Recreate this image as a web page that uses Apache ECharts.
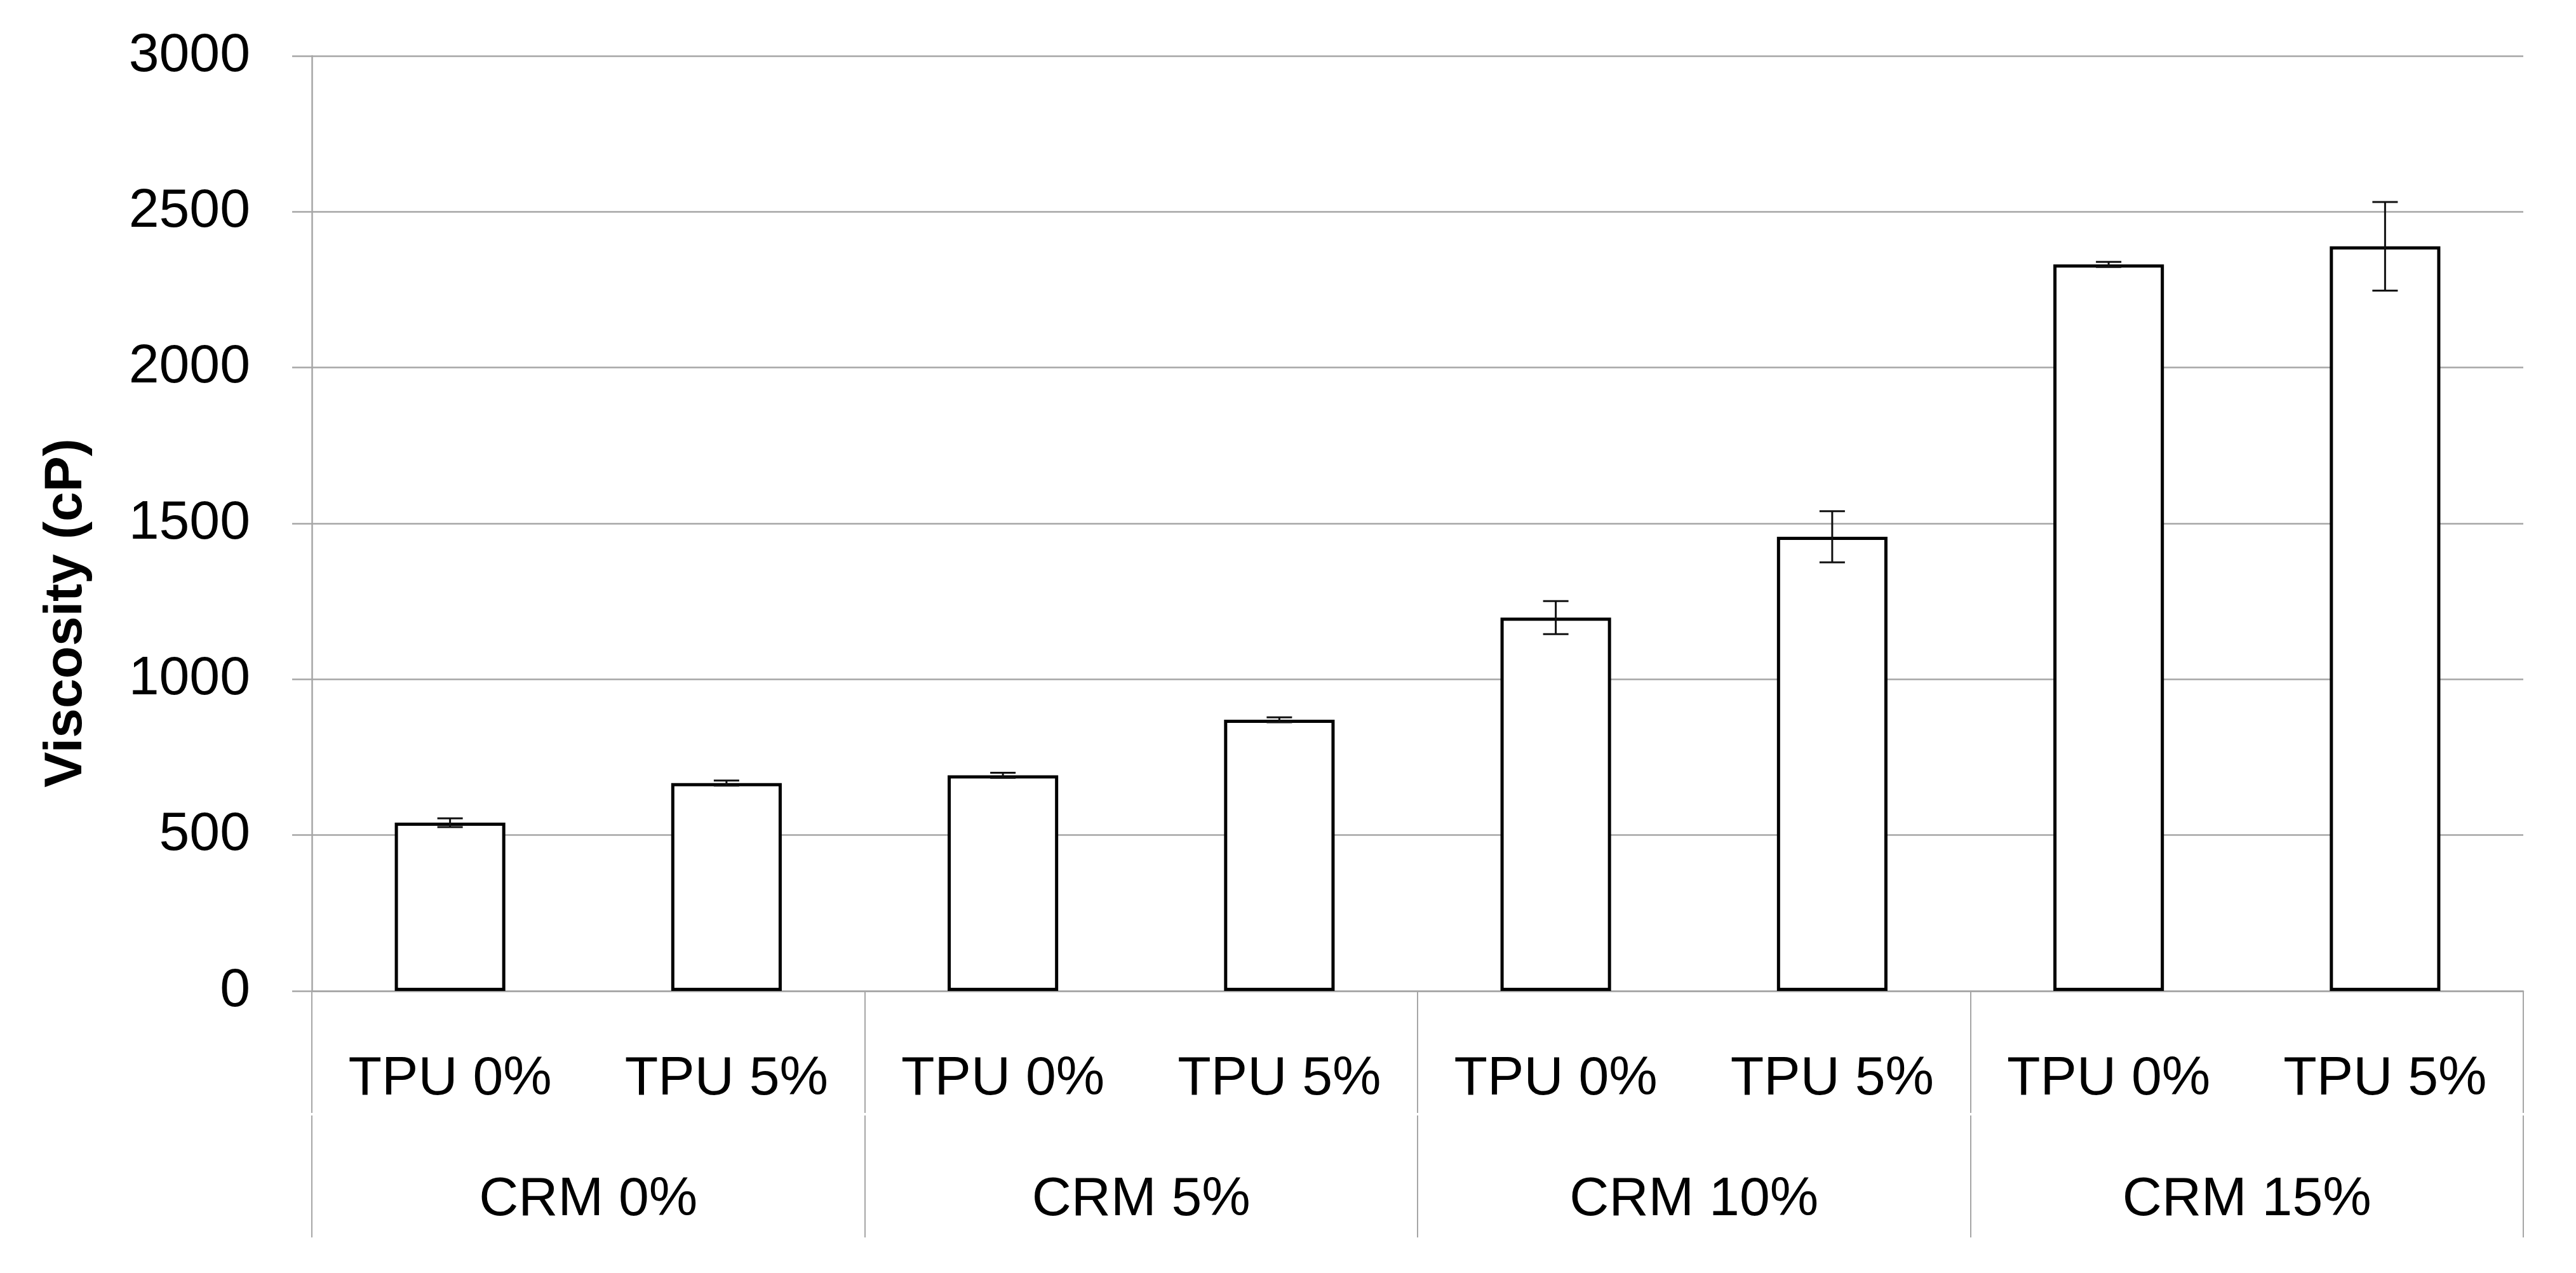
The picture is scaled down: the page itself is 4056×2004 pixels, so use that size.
<!DOCTYPE html>
<html>
<head>
<meta charset="utf-8">
<script src="https://cdn.jsdelivr.net/npm/echarts@6/dist/echarts.min.js"></script>
<style>
html,body{margin:0;padding:0;background:#fff;}
#chart{width:4056px;height:2004px;}
</style>
</head>
<body>
<div id="chart"></div>
<script>
// ---- data ----
const tpuLabels = ['TPU 0%', 'TPU 5%', 'TPU 0%', 'TPU 5%', 'TPU 0%', 'TPU 5%', 'TPU 0%', 'TPU 5%'];
const crmLabels = ['CRM 0%', 'CRM 5%', 'CRM 10%', 'CRM 15%'];
const viscosity = [540, 667, 692, 870, 1198, 1457, 2331, 2389];
const viscosityErr = [14, 8, 8, 8, 53, 82, 8, 142];
const yTicks = {min: 0, max: 3000, interval: 500};
const yTitle = 'Viscosity (cP)';

// ---- chart ----
const FONT = 'Liberation Sans';
const GRID = '#a6a6a6';
const chart = echarts.init(document.getElementById('chart'));

const errData = viscosity.map((v, i) => [i, v, viscosityErr[i]]);

chart.setOption({
  animation: false,
  backgroundColor: '#fff',
  textStyle: {fontFamily: FONT},
  grid: {left: 491, right: 83, top: 88, bottom: 444, containLabel: false},
  xAxis: [
    {
      type: 'category', data: tpuLabels, position: 'bottom',
      axisLine: {show: true, lineStyle: {color: GRID, width: 2.5}},
      axisTick: {show: false},
      axisLabel: {interval: 0, margin: 96, fontSize: 86, color: '#000', fontFamily: FONT}
    },
    {
      type: 'category', data: crmLabels, position: 'bottom', offset: 0,
      axisLine: {show: false},
      axisTick: {show: true, interval: 0, length: 192, lineStyle: {color: GRID, width: 2}},
      axisLabel: {show: false}
    },
    {
      type: 'category', data: crmLabels, position: 'bottom', offset: 196,
      axisLine: {show: false},
      axisTick: {show: true, interval: 0, length: 192, lineStyle: {color: GRID, width: 2}},
      axisLabel: {interval: 0, margin: 90, fontSize: 86, color: '#000', fontFamily: FONT}
    }
  ],
  yAxis: {
    type: 'value', min: yTicks.min, max: yTicks.max, interval: yTicks.interval,
    axisLine: {show: true, lineStyle: {color: GRID, width: 2.5}},
    axisTick: {show: true, length: 31, lineStyle: {color: GRID, width: 2.5}},
    splitLine: {show: true, lineStyle: {color: GRID, width: 2.5}},
    axisLabel: {margin: 97, fontSize: 86, color: '#000', fontFamily: FONT,
      formatter: function (v) { return String(v); }}
  },
  graphic: [{
    type: 'text',
    x: 105, y: 965,
    rotation: Math.PI / 2,
    style: {
      text: yTitle, fill: '#000', font: 'bold 84px "Liberation Sans"',
      align: 'center', verticalAlign: 'middle'
    }
  }],
  series: [
    {
      type: 'bar', xAxisIndex: 0, yAxisIndex: 0,
      data: viscosity, barWidth: '40%',
      itemStyle: {color: '#fff', borderColor: '#000', borderWidth: 5}
    },
    {
      type: 'custom', xAxisIndex: 0, yAxisIndex: 0,
      data: errData, encode: {x: 0, y: 1}, z: 5,
      renderItem: function (params, api) {
        const x = api.value(0), y = api.value(1), e = api.value(2);
        const top = api.coord([x, y + e]);
        const bot = api.coord([x, y - e]);
        const h = 20;
        const st = {stroke: '#111', lineWidth: 3};
        return {
          type: 'group',
          children: [
            {type: 'line', shape: {x1: top[0], y1: top[1], x2: bot[0], y2: bot[1]}, style: st},
            {type: 'line', shape: {x1: top[0] - h, y1: top[1], x2: top[0] + h, y2: top[1]}, style: st},
            {type: 'line', shape: {x1: bot[0] - h, y1: bot[1], x2: bot[0] + h, y2: bot[1]}, style: st}
          ]
        };
      }
    }
  ]
});
</script>
</body>
</html>
